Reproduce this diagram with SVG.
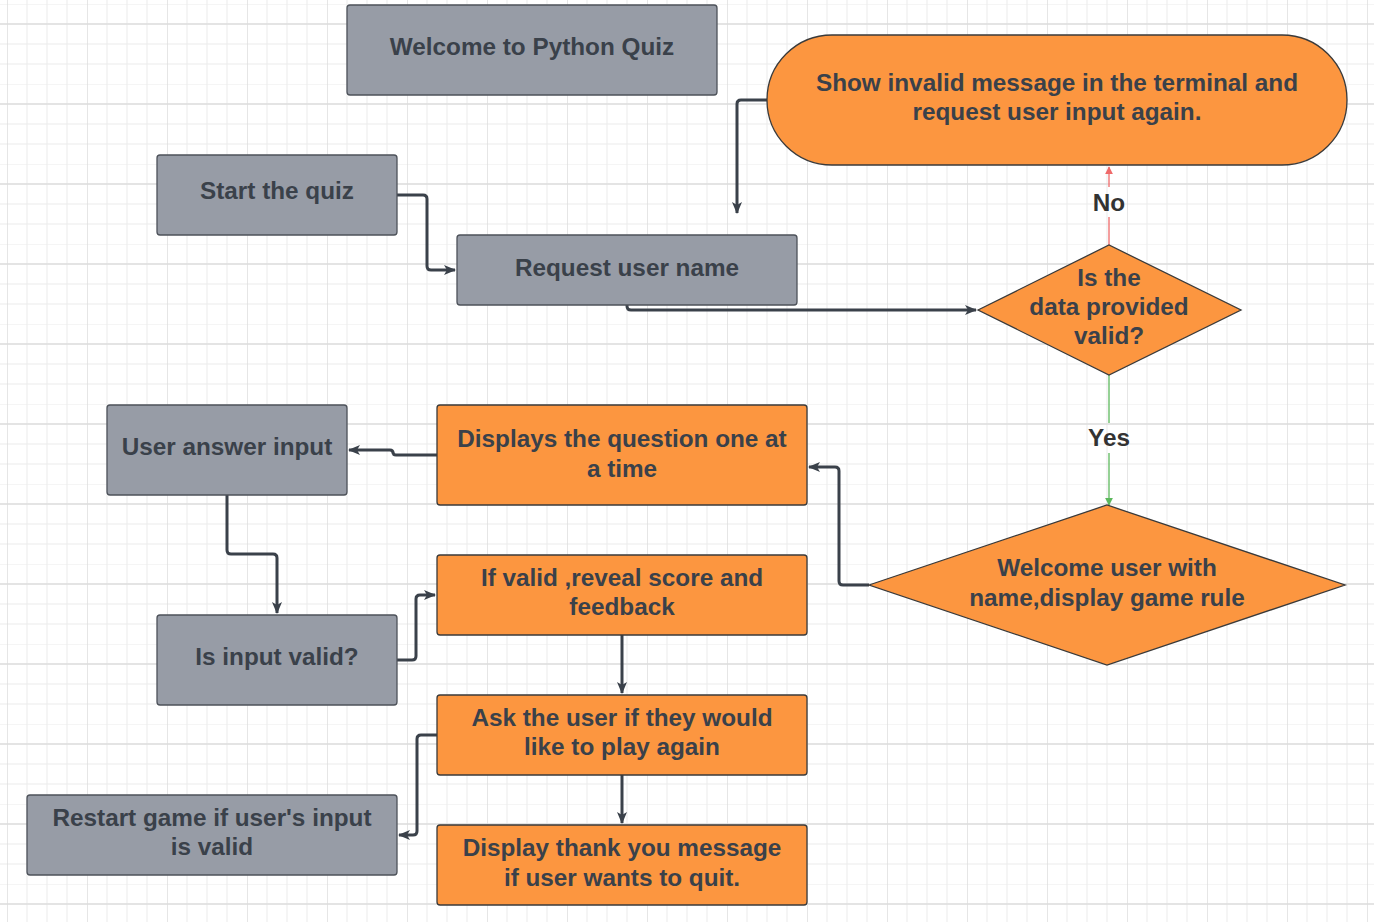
<svg xmlns="http://www.w3.org/2000/svg" width="1374" height="922" viewBox="0 0 1374 922">
<defs>
<pattern id="grid" x="7" y="4" width="80" height="80" patternUnits="userSpaceOnUse">
<path d="M20 0V80M40 0V80M60 0V80M0 0H80M0 40H80M0 60H80" stroke="#ebebeb" stroke-width="1" fill="none"/>
<path d="M0 0V80M0 20H80" stroke="#dcdcdc" stroke-width="1.4" fill="none"/>
</pattern>
<marker id="ah" viewBox="0 0 12 10" refX="11" refY="5" markerWidth="12" markerHeight="10" markerUnits="userSpaceOnUse" orient="auto">
<path d="M0 0L12 5L0 10L3 5Z" fill="#3a414a"/>
</marker>
<marker id="ahr" viewBox="0 0 10 10" refX="9" refY="5" markerWidth="8" markerHeight="9" markerUnits="userSpaceOnUse" orient="auto">
<path d="M0 0L10 5L0 10Z" fill="#ef6a6a"/>
</marker>
<marker id="ahg" viewBox="0 0 10 10" refX="9" refY="5" markerWidth="8" markerHeight="9" markerUnits="userSpaceOnUse" orient="auto">
<path d="M0 0L10 5L0 10Z" fill="#5cb85c"/>
</marker>
</defs>
<style>
.g{fill:#979ca6;stroke:#4d525a;stroke-width:1.3}
.o{fill:#fc9640;stroke:#3a3a3a;stroke-width:1.3}
.t{font-family:"Liberation Sans",Arial,sans-serif;font-weight:bold;font-size:24.3px;fill:#3a414a;text-anchor:middle}
.lbl{font-family:"Liberation Sans",Arial,sans-serif;font-weight:bold;font-size:24.3px;fill:#333;text-anchor:middle}
.c{fill:none;stroke:#3a414a;stroke-width:3;stroke-linejoin:round;marker-end:url(#ah)}
</style>
<rect width="1374" height="922" fill="#ffffff"/>
<rect width="1374" height="922" fill="url(#grid)"/>

<g id="connectors">
<path class="c" d="M397 195H423Q427 195 427 199V266Q427 270 431 270H455"/>
<path class="c" d="M767 100H741Q737 100 737 104V213"/>
<path class="c" d="M627 305V306Q627 310 631 310H976"/>
<path d="M1109 245V217" fill="none" stroke="#ef6a6a" stroke-width="1.3"/>
<path d="M1109 187V167" fill="none" stroke="#ef6a6a" stroke-width="1.3" marker-end="url(#ahr)"/>
<path d="M1109 375V423" fill="none" stroke="#5cb85c" stroke-width="1.3"/>
<path d="M1109 453V505" fill="none" stroke="#5cb85c" stroke-width="1.3" marker-end="url(#ahg)"/>
<path class="c" d="M869 585H843Q839 585 839 581V471Q839 467 835 467H809"/>
<path class="c" d="M437 455H396Q393 455 393 452V453Q393 450 390 450H349"/>
<path class="c" d="M227 495V550Q227 554 231 554H273Q277 554 277 558V613"/>
<path class="c" d="M397 660H412Q416 660 416 656V599Q416 595 420 595H435"/>
<path class="c" d="M622 635V693"/>
<path class="c" d="M437 735H421Q417 735 417 739V831Q417 835 413 835H399"/>
<path class="c" d="M622 775V823"/>
<text class="lbl" x="1109" y="211">No</text>
<text class="lbl" x="1109" y="446">Yes</text>
</g>

<g id="n-welcome">
<rect class="g" x="347" y="5" width="370" height="90" rx="3"/>
<text class="t" x="532" y="55">Welcome to Python Quiz</text>
</g>
<g id="n-invalid">
<rect class="o" x="767" y="35" width="580" height="130" rx="65"/>
<text class="t" x="1057" y="91">Show invalid message in the terminal and</text>
<text class="t" x="1057" y="120">request user input again.</text>
</g>
<g id="n-start">
<rect class="g" x="157" y="155" width="240" height="80" rx="3"/>
<text class="t" x="277" y="199">Start the quiz</text>
</g>
<g id="n-request">
<rect class="g" x="457" y="235" width="340" height="70" rx="3"/>
<text class="t" x="627" y="276">Request user name</text>
</g>
<g id="n-valid">
<polygon class="o" points="978,310 1109,245 1241,310 1109,375"/>
<text class="t" x="1109" y="286">Is the</text>
<text class="t" x="1109" y="315">data provided</text>
<text class="t" x="1109" y="344">valid?</text>
</g>
<g id="n-answer">
<rect class="g" x="107" y="405" width="240" height="90" rx="3"/>
<text class="t" x="227" y="455">User answer input</text>
</g>
<g id="n-displays">
<rect class="o" x="437" y="405" width="370" height="100" rx="3"/>
<text class="t" x="622" y="447">Displays the question one at</text>
<text class="t" x="622" y="477">a time</text>
</g>
<g id="n-welcomeuser">
<polygon class="o" points="869,585 1107,505 1345,585 1107,665"/>
<text class="t" x="1107" y="576">Welcome user with</text>
<text class="t" x="1107" y="606">name,display game rule</text>
</g>
<g id="n-ifvalid">
<rect class="o" x="437" y="555" width="370" height="80" rx="3"/>
<text class="t" x="622" y="586">If valid ,reveal score and</text>
<text class="t" x="622" y="615">feedback</text>
</g>
<g id="n-isinput">
<rect class="g" x="157" y="615" width="240" height="90" rx="3"/>
<text class="t" x="277" y="665">Is input valid?</text>
</g>
<g id="n-ask">
<rect class="o" x="437" y="695" width="370" height="80" rx="3"/>
<text class="t" x="622" y="726">Ask the user if they would</text>
<text class="t" x="622" y="755">like to play again</text>
</g>
<g id="n-restart">
<rect class="g" x="27" y="795" width="370" height="80" rx="3"/>
<text class="t" x="212" y="826">Restart game if user's input</text>
<text class="t" x="212" y="855">is valid</text>
</g>
<g id="n-thanks">
<rect class="o" x="437" y="825" width="370" height="80" rx="3"/>
<text class="t" x="622" y="856">Display thank you message</text>
<text class="t" x="622" y="886">if user wants to quit.</text>
</g>
</svg>
